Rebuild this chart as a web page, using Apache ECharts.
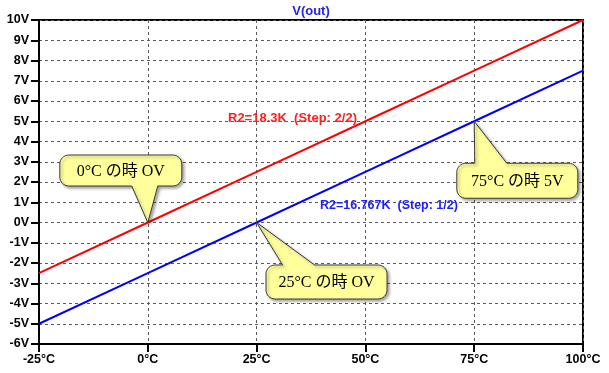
<!DOCTYPE html>
<html><head><meta charset="utf-8">
<script src="https://cdn.jsdelivr.net/npm/echarts@6/dist/echarts.min.js"></script>
<style>html,body{margin:0;padding:0;background:#fff}#c{width:609px;height:373px}</style>
</head><body><div id="c"></div>
<script>
// ---- data ----
const temps = [-25, 0, 25, 50, 75, 100];
const vStep2 = [-2.5, 0, 2.5, 5, 7.5, 10];   // R2=18.3K (Step: 2/2)
const vStep1 = [-5, -2.5, 0, 2.5, 5, 7.5];   // R2=16.767K (Step: 1/2)
const xTickLabels = ['-25°C', '0°C', '25°C', '50°C', '75°C', '100°C'];
const yTickValues = [-6, -5, -4, -3, -2, -1, 0, 1, 2, 3, 4, 5, 6, 7, 8, 9, 10];
const calloutTemps = [0, 25, 75];
const calloutVolts = [0, 0, 5];
const calloutTexts = ['0°C の時 OV', '25°C の時 OV', '75°C の時 5V'];
const traceTitle = 'V(out)';
const step2Label = 'R2=18.3K  (Step: 2/2)';
const step1Label = 'R2=16.767K  (Step: 1/2)';

// ---- layout of callouts relative to their anchor point (pixels) ----
const calloutLayout = [
  {bx0: -88, by0: -67.5, bx1: 34, by1: -36.5, side: 'bottom', t1: -16, t2: 10},
  {bx0: 9.4, by0: 42.5, bx1: 130.4, by1: 76.5, side: 'top', t1: 26, t2: 58},
  {bx0: -17.4, by0: 42, bx1: 103.6, by1: 77, side: 'top', t1: 0.6, t2: 32.6}
];

function arc(pts, cx, cy, r, a0, a1) {
  const n = 8;
  for (let k = 0; k <= n; k++) {
    const a = (a0 + (a1 - a0) * k / n) * Math.PI / 180;
    pts.push([cx + r * Math.cos(a), cy + r * Math.sin(a)]);
  }
}
function calloutPoints(ax, ay, L) {
  const r = 9;
  const x0 = ax + L.bx0, y0 = ay + L.by0, x1 = ax + L.bx1, y1 = ay + L.by1;
  const pts = [];
  arc(pts, x0 + r, y0 + r, r, 180, 270);
  if (L.side === 'top') { pts.push([ax + L.t1, y0], [ax, ay], [ax + L.t2, y0]); }
  arc(pts, x1 - r, y0 + r, r, 270, 360);
  arc(pts, x1 - r, y1 - r, r, 0, 90);
  if (L.side === 'bottom') { pts.push([ax + L.t2, y1], [ax, ay], [ax + L.t1, y1]); }
  arc(pts, x0 + r, y1 - r, r, 90, 180);
  return {pts, cx: (x0 + x1) / 2, cy: (y0 + y1) / 2};
}

const axisFontFamily = '"Liberation Sans", Arial, sans-serif';
const chart = echarts.init(document.getElementById('c'), null, {renderer: 'canvas'});
const option = {
  animation: false,
  backgroundColor: '#fff',
  grid: {left: 39, top: 20, right: 26, bottom: 29, show: true, borderColor: '#000', borderWidth: 2, backgroundColor: 'transparent'},
  xAxis: {
    type: 'value', min: -25, max: 100, interval: 25,
    axisLine: {show: true, onZero: false, lineStyle: {color: '#000', width: 2}},
    axisTick: {show: true, length: 8, lineStyle: {color: '#000', width: 2}},
    axisLabel: {color: '#000', fontWeight: 'bold', fontSize: 12.5, fontFamily: axisFontFamily, margin: 9,
      formatter: v => { const k = temps.indexOf(v); return k >= 0 ? xTickLabels[k] : v + '°C'; }},
    splitLine: {show: true, lineStyle: {color: '#5a5a5a', width: 1, type: [3, 3]}}
  },
  yAxis: {
    type: 'value', min: -6, max: 10, interval: 1,
    axisLine: {show: true, onZero: false, lineStyle: {color: '#000', width: 2}},
    axisTick: {show: true, length: 8, lineStyle: {color: '#000', width: 2}},
    axisLabel: {color: '#000', fontWeight: 'bold', fontSize: 12.5, fontFamily: axisFontFamily, margin: 10,
      formatter: v => v + 'V'},
    splitLine: {show: true, lineStyle: {color: '#5a5a5a', width: 1, type: [3, 3]}}
  },
  series: [
    {type: 'line', data: temps.map((t, i) => [t, vStep2[i]]), showSymbol: false, symbol: 'none',
      lineStyle: {color: '#ff0000', width: 2}, itemStyle: {color: '#ff0000'}, z: 3},
    {type: 'line', data: temps.map((t, i) => [t, vStep1[i]]), showSymbol: false, symbol: 'none',
      lineStyle: {color: '#0000ff', width: 2}, itemStyle: {color: '#0000ff'}, z: 3},
    {type: 'custom', z: 10, clip: false,
      data: calloutTemps.map((t, i) => [t, calloutVolts[i]]),
      encode: {x: 0, y: 1},
      renderItem: function (params, api) {
        const i = params.dataIndex;
        const p = api.coord([api.value(0), api.value(1)]);
        const c = calloutPoints(p[0], p[1], calloutLayout[i]);
        return {type: 'group', children: [
          {type: 'polygon', shape: {points: c.pts},
            style: {fill: '#ffff9c', stroke: '#3a3a3a', lineWidth: 1,
              shadowBlur: 3, shadowOffsetX: 2, shadowOffsetY: 2, shadowColor: 'rgba(0,0,0,0.35)'}},
          {type: 'text', style: {text: calloutTexts[i], x: c.cx, y: c.cy + 1, align: 'center', verticalAlign: 'middle',
            textAlign: 'center', textVerticalAlign: 'middle',
            font: '16px "Liberation Serif", "Noto Sans CJK JP", serif', fill: '#000'}}
        ]};
      }
    }
  ],
  graphic: [
    {type: 'text', x: 311, y: 11, z: 20, style: {text: traceTitle, align: 'center', verticalAlign: 'middle', textAlign: 'center', textVerticalAlign: 'middle',
      font: 'bold 13px "Liberation Sans", Arial, sans-serif', fill: '#2424e8'}},
    {type: 'text', x: 228, y: 118, z: 20, style: {text: step2Label, align: 'left', verticalAlign: 'middle', textVerticalAlign: 'middle',
      font: 'bold 13px "Liberation Sans", Arial, sans-serif', fill: '#ff2020'}},
    {type: 'text', x: 320, y: 206, z: 20, style: {text: step1Label, align: 'left', verticalAlign: 'middle', textVerticalAlign: 'middle',
      font: 'bold 12.5px "Liberation Sans", Arial, sans-serif', fill: '#2020ff'}}
  ]
};
chart.setOption(option);
</script>
</body></html>
